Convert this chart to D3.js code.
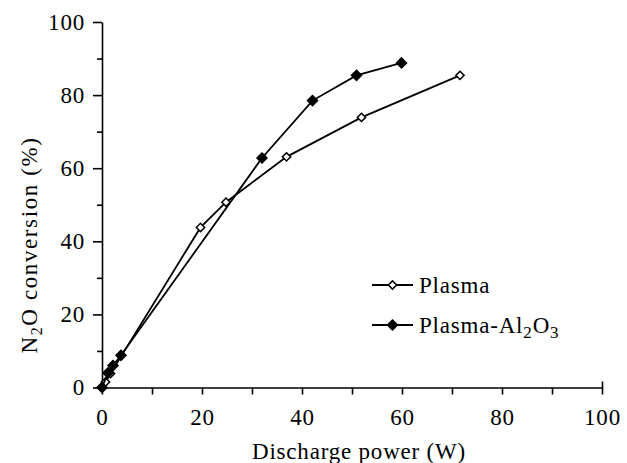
<!DOCTYPE html>
<html>
<head>
<meta charset="utf-8">
<script src="https://cdn.jsdelivr.net/npm/d3@7"></script>
<style>
  html, body { margin: 0; padding: 0; background: #fff; }
  svg text { font-family: "Liberation Serif", "Times New Roman", serif; fill: #000; }
</style>
</head>
<body>
<svg id="chart" width="627" height="463"></svg>
<script>
// ---- data ----
const plasmaPower = [0, 0.7, 1.7, 19.7, 24.8, 36.9, 51.9, 71.6];
const plasmaConv  = [0, 1.5, 3.8, 43.8, 50.7, 63.1, 73.9, 85.4];
const alPower = [0, 1.2, 2.2, 3.8, 32.0, 42.1, 50.9, 59.9];
const alConv  = [0, 4.0, 6.0, 8.8, 62.8, 78.5, 85.4, 88.8];
const xTicks = [0, 20, 40, 60, 80, 100];
const xMinorTicks = [10, 30, 50, 70, 90];
const yTicks = [0, 20, 40, 60, 80, 100];
const yMinorTicks = [10, 30, 50, 70, 90];
const seriesNames = ["Plasma", "Plasma-Al2O3"];

(function () {
const svg = d3.select("#chart");
const mLeft = 102, mRight = 602, mTop = 22, mBottom = 387.5;
const x = d3.scaleLinear().domain([0, 100]).range([mLeft, mRight]);
const y = d3.scaleLinear().domain([0, 100]).range([mBottom, mTop]);

const fs = 23, ls = "0.8px";

// x axis
const xAxis = svg.append("g").attr("transform", `translate(0,${mBottom})`)
  .call(d3.axisBottom(x).tickValues(xTicks.concat(xMinorTicks)).tickSizeInner(7).tickSizeOuter(-6).tickPadding(14)
    .tickFormat(d => xTicks.includes(d) ? d : ""));
xAxis.selectAll("path, line").attr("stroke", "#000").attr("stroke-width", 1.6);
xAxis.selectAll("text").attr("font-size", fs).style("letter-spacing", ls)
  .attr("font-family", "Liberation Serif");

// y axis
const yAxis = svg.append("g").attr("transform", `translate(${mLeft},0)`)
  .call(d3.axisLeft(y).tickValues(yTicks).tickSizeInner(9).tickSizeOuter(0).tickPadding(8));
yAxis.selectAll("path, line").attr("stroke", "#000").attr("stroke-width", 1.6);
yAxis.selectAll("text").attr("font-size", fs).style("letter-spacing", ls)
  .attr("font-family", "Liberation Serif");
const yMinor = svg.append("g").attr("transform", `translate(${mLeft},0)`)
  .call(d3.axisLeft(y).tickValues(yMinorTicks).tickSizeInner(5).tickSizeOuter(0).tickFormat(""));
yMinor.select("path").remove();
yMinor.selectAll("line").attr("stroke", "#000").attr("stroke-width", 1.6);

// axis titles
svg.append("text").attr("x", 359).attr("y", 459).attr("text-anchor", "middle")
  .attr("font-size", fs).style("letter-spacing", ls).text("Discharge power (W)");

const yl = svg.append("text").attr("transform", `translate(37,${245}) rotate(-90)`)
  .attr("text-anchor", "middle").attr("font-size", fs).style("letter-spacing", "1.6px");
yl.append("tspan").text("N");
yl.append("tspan").attr("font-size", 16).attr("dy", 5).text("2");
yl.append("tspan").attr("dy", -5).text("O conversion (%)");

// series
const plasmaData = plasmaPower.map((p, i) => [p, plasmaConv[i]]);
const alData = alPower.map((p, i) => [p, alConv[i]]);
const line = d3.line().x(d => x(d[0])).y(d => y(d[1]));
const diamond = d3.symbol().type(d3.symbolDiamond2);

function drawSeries(data, filled) {
  svg.append("path").datum(data).attr("d", line)
    .attr("fill", "none").attr("stroke", "#000").attr("stroke-width", 1.8);
  svg.append("g").selectAll("path").data(data).join("path")
    .attr("transform", d => `translate(${x(d[0])},${y(d[1])})`)
    .attr("d", diamond.size(filled ? 64 : 44)())
    .attr("fill", filled ? "#000" : "#fff")
    .attr("stroke", "#000").attr("stroke-width", 1.5);
}
drawSeries(plasmaData, false);
drawSeries(alData, true);

// legend
const legend = svg.append("g");
const legendY = [285, 325];
[false, true].forEach((filled, i) => {
  const g = legend.append("g").attr("transform", `translate(0,${legendY[i]})`);
  g.append("line").attr("x1", 372).attr("x2", 413).attr("y1", 0).attr("y2", 0)
    .attr("stroke", "#000").attr("stroke-width", 1.8);
  g.append("path").attr("transform", "translate(392.5,0)")
    .attr("d", diamond.size(filled ? 64 : 44)())
    .attr("fill", filled ? "#000" : "#fff").attr("stroke", "#000").attr("stroke-width", 1.5);
  const t = g.append("text").attr("x", 419).attr("y", 7.5).attr("font-size", fs).style("letter-spacing", ls);
  if (i === 0) {
    t.text(seriesNames[0]);
  } else {
    t.append("tspan").text("Plasma-Al");
    t.append("tspan").attr("font-size", 17).attr("dy", 5).text("2");
    t.append("tspan").attr("dy", -5).text("O");
    t.append("tspan").attr("font-size", 17).attr("dy", 5).text("3");
  }
});
})();
</script>
</body>
</html>
